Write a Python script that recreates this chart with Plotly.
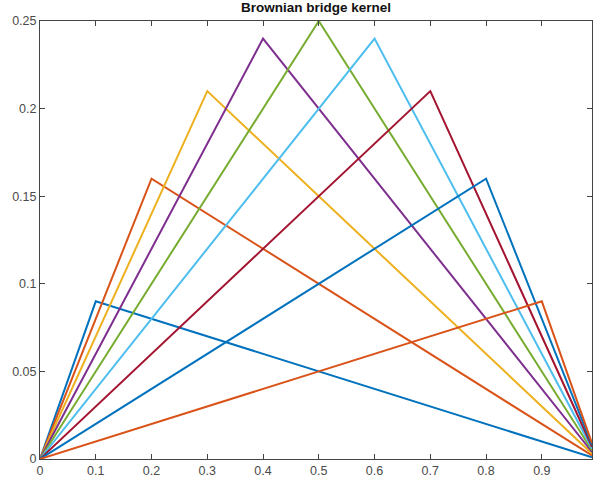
import plotly.graph_objects as go

peak_x = [0.1, 0.2, 0.3, 0.4, 0.5, 0.6, 0.7, 0.8, 0.9]
peak_y = [0.09, 0.16, 0.21, 0.24, 0.25, 0.24, 0.21, 0.16, 0.09]
end_x = 0.99
end_y = [0.001, 0.002, 0.003, 0.004, 0.005, 0.006, 0.007, 0.008, 0.009]
colors = ["#0072BD", "#D95319", "#EDB120", "#7E2F8E", "#77AC30",
          "#4DBEEE", "#A2142F", "#0072BD", "#D95319"]

x_ticks = [0, 0.1, 0.2, 0.3, 0.4, 0.5, 0.6, 0.7, 0.8, 0.9]
x_labels = ["0", "0.1", "0.2", "0.3", "0.4", "0.5", "0.6", "0.7", "0.8", "0.9"]
y_ticks = [0, 0.05, 0.1, 0.15, 0.2, 0.25]
y_labels = ["0", "0.05", "0.1", "0.15", "0.2", "0.25"]

fig = go.Figure()
for px, py, ey, c in zip(peak_x, peak_y, end_y, colors):
    fig.add_trace(go.Scatter(x=[0, px, end_x], y=[0, py, ey], mode="lines",
                             line=dict(color=c, width=2), showlegend=False,
                             hoverinfo="skip"))

axis_common = dict(showgrid=False, zeroline=False, ticks="inside", ticklen=5,
                   tickcolor="#444444", linecolor="#444444", linewidth=1,
                   showline=True, mirror="ticks",
                   tickfont=dict(family="Liberation Sans, Arial", size=12.5, color="#4a4a4a"))

fig.update_layout(
    width=593, height=480,
    margin=dict(l=40, r=1, t=21, b=21),
    paper_bgcolor="white", plot_bgcolor="white",
    title=dict(text="<b>Brownian bridge kernel</b>", x=0.533, xref="container",
               xanchor="center",
               y=1, yref="container", yanchor="top", pad=dict(t=3),
               font=dict(family="Liberation Sans, Arial", size=13.5, color="#111111")),
    xaxis=dict(range=[0, end_x], tickvals=x_ticks, ticktext=x_labels, **axis_common),
    yaxis=dict(range=[0, 0.25], tickvals=y_ticks, ticktext=y_labels, **axis_common),
)

fig.write_html("out.html")
